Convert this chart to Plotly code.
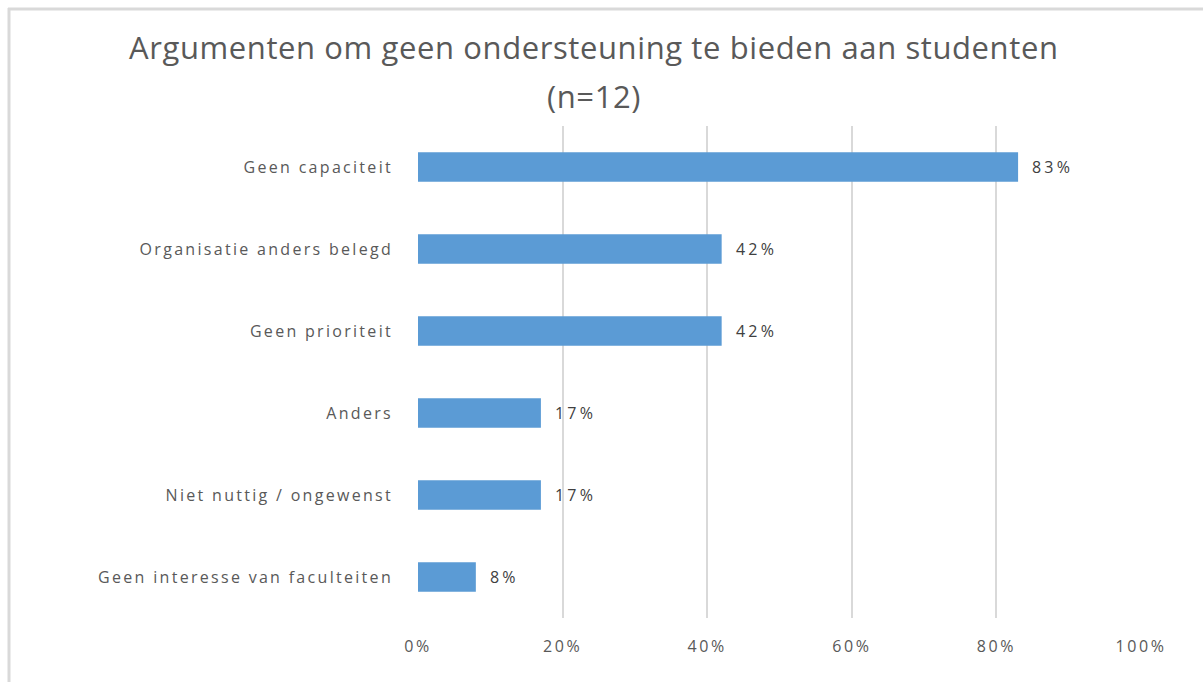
import plotly.graph_objects as go

categories = ["Geen capaciteit", "Organisatie anders belegd", "Geen prioriteit",
              "Anders", "Niet nuttig / ongewenst", "Geen interesse van faculteiten"]
values = [83, 42, 42, 17, 17, 8]
x_ticks = [0, 20, 40, 60, 80, 100]
x_tick_labels = ["0%", "20%", "40%", "60%", "80%", "100%"]
title_lines = ["Argumenten om geen ondersteuning te bieden aan studenten", "(n=12)"]

FONT = "'Open Sans', sans-serif"
GREY = "#595959"
W, H = 1203, 682
ML, MR, MT, MB = 418, 62, 126, 64
PW, PH = W - ML - MR, H - MT - MB


def spaced(t, ls):
    return f'<span style="letter-spacing:{ls}px">{t}</span>'


def px_x(p):
    return (p - ML) / PW


def px_y(p):
    return (H - MB - p) / PH


fig = go.Figure()
fig.add_trace(go.Bar(
    x=values, y=categories, orientation="h",
    marker=dict(color="#5B9BD5", line=dict(width=0)),
    hoverinfo="skip",
))

for c, v in zip(categories, values):
    fig.add_annotation(x=v, y=c, text=spaced(f"{v}%", 3.2), showarrow=False,
                       xanchor="left", xshift=12,
                       font=dict(family=FONT, size=16, color="#404040"))

for line, yc in zip(title_lines, [47, 96]):
    fig.add_annotation(xref="paper", yref="paper", x=px_x(594), y=px_y(yc),
                       text=spaced(line, 0.6), showarrow=False,
                       xanchor="center", yanchor="middle",
                       font=dict(family=FONT, size=31, color=GREY))

fig.update_layout(
    width=W, height=H,
    margin=dict(l=ML, r=MR, t=MT, b=MB),
    paper_bgcolor="white", plot_bgcolor="white",
    bargap=0.64,
    showlegend=False,
    font=dict(family=FONT, size=16, color=GREY),
    xaxis=dict(range=[0, 100], tickvals=x_ticks,
               ticktext=[spaced(t, 2.6) for t in x_tick_labels],
               showgrid=True, gridcolor="#d9d9d9", gridwidth=1.5,
               zeroline=False, showline=False, ticks="",
               ticklabelstandoff=17,
               tickfont=dict(family=FONT, size=16, color=GREY)),
    yaxis=dict(categoryorder="array", categoryarray=categories[::-1],
               tickvals=categories, ticktext=[spaced(c, 2.3) for c in categories],
               showgrid=False, zeroline=False, showline=False, ticks="",
               ticklabelstandoff=24,
               tickfont=dict(family=FONT, size=16, color=GREY)),
    shapes=[
        dict(type="line", xref="paper", yref="paper", x0=px_x(8), x1=px_x(W),
             y0=px_y(9), y1=px_y(9), line=dict(color="#d9d9d9", width=3)),
        dict(type="line", xref="paper", yref="paper", x0=px_x(9), x1=px_x(9),
             y0=px_y(8), y1=px_y(H), line=dict(color="#d9d9d9", width=3)),
    ],
)

fig.write_html("out.html")
